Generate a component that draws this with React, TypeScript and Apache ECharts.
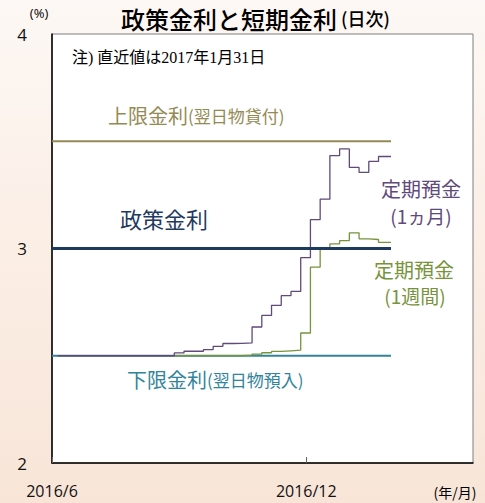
import React, { useEffect, useRef } from 'react';
import * as echarts from 'echarts';

// weekly observation dates (step holds until next date)
const weekDates = [
  '2016-06-05', '2016-06-12', '2016-06-19', '2016-06-26',
  '2016-07-03', '2016-07-10', '2016-07-17', '2016-07-24', '2016-07-31',
  '2016-08-07', '2016-08-14', '2016-08-21', '2016-08-28',
  '2016-09-04', '2016-09-11', '2016-09-18', '2016-09-25',
  '2016-10-02', '2016-10-09', '2016-10-16', '2016-10-23', '2016-10-30',
  '2016-11-06', '2016-11-13', '2016-11-20', '2016-11-27',
  '2016-12-04', '2016-12-11', '2016-12-18', '2016-12-25',
  '2017-01-01', '2017-01-08', '2017-01-15', '2017-01-22', '2017-01-29', '2017-01-31',
];

// 定期預金(1ヵ月)
const deposit1M = [
  2.5, 2.5, 2.5, 2.5,
  2.5, 2.5, 2.5, 2.5, 2.5,
  2.5, 2.5, 2.5, 2.513,
  2.521, 2.521, 2.529, 2.544,
  2.557, 2.558, 2.56, 2.634, 2.688,
  2.735, 2.78, 2.8, 2.957,
  3.135, 3.23, 3.433, 3.464,
  3.378, 3.355, 3.406, 3.429, 3.429, 3.429,
];

// 定期預金(1週間)
const deposit1W = [
  2.5, 2.5, 2.5, 2.5,
  2.5, 2.5, 2.5, 2.5, 2.5,
  2.5, 2.5, 2.5, 2.5,
  2.5, 2.5, 2.5, 2.5,
  2.5, 2.5, 2.503, 2.508, 2.514,
  2.52, 2.523, 2.526, 2.606,
  2.913, 2.998, 3.022, 3.037,
  3.073, 3.045, 3.042, 3.029, 3.029, 3.029,
];

const rateDates = ['2016-06-01', '2017-01-31'];
const upperRate = [3.5, 3.5];
const policyRate = [3.0, 3.0];
const lowerRate = [2.5, 2.5];

// x axis: days counted from the axis origin date
const xOrigin = '2016-06-01';
const xEnd = '2017-03-31';
const xTickDates = ['2016-06-01', '2016-12-01'];
const xTickLabels = ['2016/6', '2016/12'];
const yTicks = { min: 2, max: 4, interval: 1 };

const C_UPPER = '#948A54';
const C_POLICY = '#1F3A5F';
const C_LOWER = '#31849B';
const C_1M = '#604A7B';
const C_1W = '#77933C';

const CJK = '"Noto Sans CJK JP", "Noto Sans", sans-serif';
const NUM = '"Open Sans", "Noto Sans", sans-serif';

function dayIndex(s: string) {
  const [y, m, d] = s.split('-').map(Number);
  const [oy, om, od] = xOrigin.split('-').map(Number);
  return Math.round((Date.UTC(y, m - 1, d) - Date.UTC(oy, om - 1, od)) / 86400000);
}

export default function App() {
  const ref = useRef<HTMLDivElement>(null);
  useEffect(() => {
    if (!ref.current) return;
    const chart = echarts.init(ref.current, null, { renderer: 'svg' });
    const tickDays = xTickDates.map(dayIndex);
    const pair = (dates: string[], vals: number[]) => dates.map((d, i) => [dayIndex(d), vals[i]]);
    chart.setOption({
      animation: false,
      grid: {
        left: 52, right: 12, top: 34, bottom: 40,
        show: true, backgroundColor: '#ffffff', borderColor: '#7f7f7f', borderWidth: 1,
      },
      xAxis: {
        type: 'value',
        min: 0,
        max: dayIndex(xEnd),
        interval: tickDays[1] - tickDays[0],
        axisLine: { show: true, lineStyle: { color: '#000', width: 1.5 } },
        axisTick: { show: true, inside: true, length: 6, lineStyle: { color: '#666' } },
        axisLabel: {
          formatter: (v: number) => {
            const i = tickDays.indexOf(Math.round(v));
            return i >= 0 ? xTickLabels[i] : '';
          },
          fontSize: 16, fontFamily: NUM, fontWeight: 'normal', color: '#111', margin: 20,
          showMinLabel: true, showMaxLabel: false,
        },
        splitLine: { show: false },
      },
      yAxis: {
        type: 'value',
        min: yTicks.min, max: yTicks.max, interval: yTicks.interval,
        axisLine: { show: true, lineStyle: { color: '#000', width: 1.5 } },
        axisTick: { show: false },
        axisLabel: { fontSize: 17, fontFamily: NUM, fontWeight: 'normal', color: '#111', margin: 25 },
        splitLine: { show: false },
      },
      series: [
        { name: '上限金利', type: 'line', data: pair(rateDates, upperRate), symbol: 'none', lineStyle: { color: C_UPPER, width: 2 }, z: 2 },
        { name: '下限金利', type: 'line', data: pair(rateDates, lowerRate), symbol: 'none', lineStyle: { color: C_LOWER, width: 2 }, z: 2 },
        { name: '定期預金(1週間)', type: 'line', step: 'end', data: pair(weekDates, deposit1W), symbol: 'none', lineStyle: { color: C_1W, width: 1.3 }, z: 3 },
        { name: '定期預金(1ヵ月)', type: 'line', step: 'end', data: pair(weekDates, deposit1M), symbol: 'none', lineStyle: { color: C_1M, width: 1.3 }, z: 4 },
        { name: '政策金利', type: 'line', data: pair(rateDates, policyRate), symbol: 'none', lineStyle: { color: C_POLICY, width: 3 }, z: 5 },
      ],
      graphic: [
        {
          type: 'text', left: 121, top: 6,
          style: {
            text: '{a|政策金利と短期金利}{b| (日次)}',
            rich: {
              a: { fontSize: 24, fontFamily: CJK, fontWeight: 500, fill: '#000' },
              b: { fontSize: 18, fontFamily: CJK, fontWeight: 500, fill: '#000' },
            },
          },
        },
        { type: 'text', x: 39, y: 13, style: { text: '(%)', fontSize: 13, fontFamily: NUM, fill: '#000', align: 'center', verticalAlign: 'middle' } },
        { type: 'text', x: 455, y: 492, style: { text: '(年/月)', fontSize: 14, fontFamily: CJK, fill: '#000', align: 'center', verticalAlign: 'middle' } },
        { type: 'text', x: 72, y: 57, style: { text: '注) 直近値は2017年1月31日', fontSize: 16, fontFamily: '"Liberation Serif", "Noto Sans CJK JP", serif', fill: '#000', align: 'left', verticalAlign: 'middle' } },
        {
          type: 'text', x: 108, y: 115,
          style: {
            text: '{a|上限金利}{b|(翌日物貸付)}', align: 'left', verticalAlign: 'middle',
            rich: {
              a: { fontSize: 20, fontFamily: CJK, fill: C_UPPER },
              b: { fontSize: 17, fontFamily: CJK, fill: C_UPPER },
            },
          },
        },
        { type: 'text', x: 164, y: 218, style: { text: '政策金利', fontSize: 22, fontFamily: CJK, fill: C_POLICY, align: 'center', verticalAlign: 'middle' } },
        { type: 'text', x: 421, y: 188, style: { text: '定期預金', fontSize: 20, fontFamily: CJK, fill: C_1M, align: 'center', verticalAlign: 'middle' } },
        { type: 'text', x: 421, y: 215, style: { text: '(1ヵ月)', fontSize: 19, fontFamily: CJK, fill: C_1M, align: 'center', verticalAlign: 'middle' } },
        { type: 'text', x: 414, y: 269, style: { text: '定期預金', fontSize: 20, fontFamily: CJK, fill: C_1W, align: 'center', verticalAlign: 'middle' } },
        { type: 'text', x: 415, y: 295, style: { text: '(1週間)', fontSize: 19, fontFamily: CJK, fill: C_1W, align: 'center', verticalAlign: 'middle' } },
        {
          type: 'text', x: 127, y: 379,
          style: {
            text: '{a|下限金利}{b|(翌日物預入)}', align: 'left', verticalAlign: 'middle',
            rich: {
              a: { fontSize: 20, fontFamily: CJK, fill: C_LOWER },
              b: { fontSize: 17, fontFamily: CJK, fill: C_LOWER },
            },
          },
        },
      ],
    });
    return () => chart.dispose();
  }, []);
  return (
    <div
      ref={ref}
      style={{
        position: 'absolute', left: 0, top: 0, width: 485, height: 503,
        background: 'linear-gradient(to bottom, #fdf8f5 0%, #fbeee5 50%, #f8e5d8 100%)',
      }}
    />
  );
}
